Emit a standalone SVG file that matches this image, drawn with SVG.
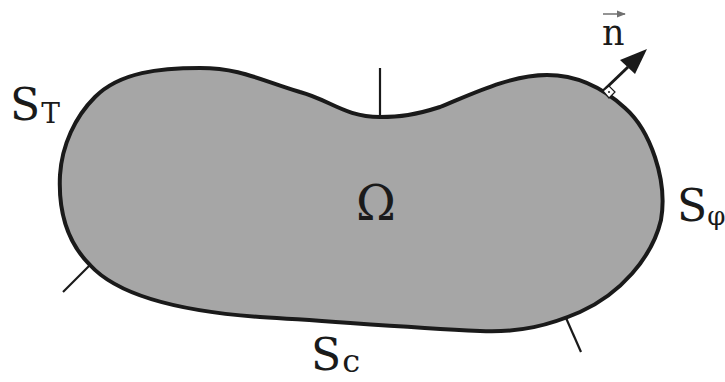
<svg xmlns="http://www.w3.org/2000/svg" width="725" height="382" viewBox="0 0 725 382">
<style>
.tick{stroke:#1a1a1a;stroke-width:2.2;fill:none}
.lbl{font-family:'DejaVu Serif',serif;fill:#1a1a1a}
</style>
<defs>
<marker id="ah" viewBox="0 0 10 10" refX="9" refY="5" markerWidth="9" markerHeight="9" markerUnits="userSpaceOnUse" orient="auto"><path d="M0,1 L10,5 L0,9 Z" fill="#707070"/></marker>
</defs>
<rect width="725" height="382" fill="#fff"/>
<g id="domain">
<path d="M 380 117 C 345 117, 330 100, 300 92 C 260 80, 240 68, 200 68 C 160 68, 120 72, 95 97 C 75 117, 62 145, 60 175 C 58 215, 70 245, 90 265 C 120 298, 190 312, 260 317 C 330 321, 400 327, 480 331 C 520 333, 550 325, 580 312 C 620 294, 652 258, 661 220 C 668 180, 650 130, 625 108 C 600 85, 575 75, 547 75 C 510 75, 470 95, 440 107 C 415 115, 400 117, 380 117 Z" fill="#a6a6a6" stroke="#1a1a1a" stroke-width="4"/>
<text class="lbl" x="356" y="220" font-size="48">Ω</text>
</g>
<g id="connectors">
<line class="tick" x1="380" y1="68" x2="380" y2="117"/>
<line class="tick" x1="90" y1="265" x2="63" y2="292"/>
<line class="tick" x1="566" y1="318" x2="581" y2="352"/>
<line x1="603" y1="91" x2="628" y2="67" stroke="#1a1a1a" stroke-width="3"/>
<path d="M647,49 L620,60 L635,74 Z" fill="#1a1a1a"/>
<path d="M603,91 L609,86 L615,92 L609,98 Z" fill="#fff" stroke="#1a1a1a" stroke-width="1.2"/>
<circle cx="609" cy="92" r="1" fill="#1a1a1a"/>
</g>
<g id="label-n">
<text class="lbl" x="602" y="45" font-size="35">n</text>
<line x1="603" y1="14" x2="625" y2="14" stroke="#707070" stroke-width="1.5" marker-end="url(#ah)"/>
</g>
<g id="label-ST">
<text class="lbl" x="10" y="120" font-size="44">S<tspan font-size="28" dx="1" dy="3">T</tspan></text>
</g>
<g id="label-Sc">
<text class="lbl" x="311" y="370" font-size="44">S<tspan font-size="32" dx="1" dy="2">c</tspan></text>
</g>
<g id="label-Sphi">
<text class="lbl" x="677" y="221" font-size="44">S<tspan font-size="26" dy="4">φ</tspan></text>
</g>
</svg>
